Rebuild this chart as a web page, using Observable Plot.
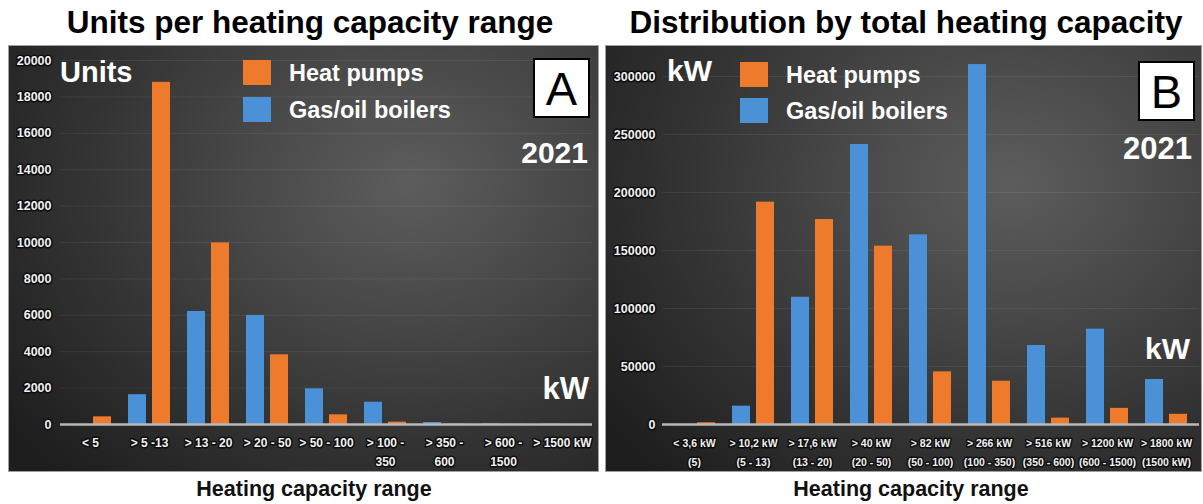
<!DOCTYPE html>
<html><head><meta charset="utf-8">
<script src="https://cdn.jsdelivr.net/npm/d3@7"></script>
<script src="https://cdn.jsdelivr.net/npm/@observablehq/plot@0.6"></script>
<style>
body{margin:0;background:#fff;font-family:"Liberation Sans",Arial,sans-serif;}
#root{position:relative;width:1203px;height:504px;overflow:hidden;background:#fff;}
.title{position:absolute;top:7px;font-weight:bold;font-size:31.5px;line-height:1;color:#000;white-space:nowrap;transform:translateX(-50%);}
.xtitle{position:absolute;top:479px;font-weight:bold;font-size:21.5px;line-height:1;color:#111;white-space:nowrap;transform:translateX(-50%);}
.panel{position:absolute;top:46px;height:425px;background:radial-gradient(ellipse 85% 95% at 68% 32%, #5d5d5d 0%, #4a4a4a 30%, #333 65%, #1e1e1e 100%);box-shadow:0 0 0 1px #a0a0a0;}
.panel svg{position:absolute;left:0;top:0;}
.panel svg g[aria-label$="tick label"] text{stroke:#0d0d0d;stroke-width:3px;paint-order:stroke;stroke-linejoin:round;}
.ann{position:absolute;line-height:1;color:#fff;font-weight:bold;white-space:nowrap;}
.sw{position:absolute;width:28px;height:25px;}
.box{position:absolute;width:53px;height:56px;background:#fff;border:2px solid #000;color:#000;font-size:47px;line-height:57px;text-align:center;font-weight:normal;}
</style></head>
<body><div id="root"></div>
<script>
// ---- data ----
const seriesNames = ["Heat pumps", "Gas/oil boilers"];

const leftCategories = ["< 5", "> 5 -13", "> 13 - 20", "> 20 - 50", "> 50 - 100", "> 100 -\n350", "> 350 -\n600", "> 600 -\n1500", "> 1500 kW"];
const leftHeatPumps = [420, 18800, 9980, 3830, 530, 130, 20, 10, 5];
const leftBoilers   = [0, 1640, 6210, 5990, 1960, 1225, 110, 30, 15];
const leftTicks = [0, 2000, 4000, 6000, 8000, 10000, 12000, 14000, 16000, 18000, 20000];

const rightCategories = ["< 3,6 kW\n(5)", "> 10,2 kW\n(5 - 13)", "> 17,6 kW\n(13 - 20)", "> 40 kW\n(20 - 50)", "> 82 kW\n(50 - 100)", "> 266 kW\n(100 - 350)", "> 516 kW\n(350 - 600)", "> 1200 kW\n(600 - 1500)", "> 1800 kW\n(1500 kW)"];
const rightHeatPumps = [1500, 191700, 176700, 153700, 45400, 37300, 5500, 13900, 8800];
const rightBoilers   = [0, 15800, 109700, 241400, 163500, 310300, 68100, 82200, 38800];
const rightTicks = [0, 50000, 100000, 150000, 200000, 250000, 300000];

// ---- styles ----
const ORANGE = "#ee7a2c", BLUE = "#4b91d8";
const FONT = "Liberation Sans, Arial, sans-serif";

function makePanel(cats, hp, gas, ticks, cfg) {
  const hpData = cats.map((c, i) => ({cat: c, value: hp[i]}));
  const gasData = cats.map((c, i) => ({cat: c, value: gas[i]}));
  const bw = 42.5, barW = 18.5;
  return Plot.plot({
    width: cfg.width, height: 425,
    marginLeft: cfg.ml, marginRight: cfg.mr, marginTop: cfg.mt, marginBottom: 47,
    style: {background: "transparent", fontFamily: FONT, overflow: "visible"},
    x: {domain: cats, paddingInner: 0.28, paddingOuter: 0.14, axis: null},
    y: {domain: [0, ticks[ticks.length - 1]], axis: null},
    marks: [
      Plot.gridY(ticks, {stroke: "#fff", strokeOpacity: 0.07, strokeWidth: 1}),
      Plot.barY(gasData, {x: "cat", y: "value", fill: BLUE, insetRight: bw - barW}),
      Plot.barY(hpData, {x: "cat", y: "value", fill: ORANGE, insetLeft: bw - barW}),
      Plot.ruleY([0], {stroke: "#b8b8b8", strokeWidth: 2.5}),
      Plot.axisY(ticks, {anchor: "left", tickSize: 0, tickPadding: cfg.yPad, label: null,
        tickFormat: d3.format("d"), fontSize: cfg.yFont, fontWeight: "bold",
        fill: "#f2f2f2"}),
      Plot.axisX({anchor: "bottom", tickSize: 0, tickPadding: 9, label: null,
        fontSize: cfg.xFont, fontWeight: "bold", lineHeight: cfg.lh,
        fill: "#f2f2f2"})
    ]
  });
}

const root = document.getElementById("root");
function add(html) { root.insertAdjacentHTML("beforeend", html); }

add('<div class="title" style="left:310px">Units per heating capacity range</div>');
add('<div class="title" style="left:906px">Distribution by total heating capacity</div>');

const pl = document.createElement("div"); pl.className = "panel";
pl.style.left = "9px"; pl.style.width = "589px"; root.appendChild(pl);
pl.appendChild(makePanel(leftCategories, leftHeatPumps, leftBoilers, leftTicks,
  {width: 589, ml: 51, mr: 6, mt: 14, yPad: 9, yFont: 12.5, xFont: 12, lh: 1.6}));

const pr = document.createElement("div"); pr.className = "panel";
pr.style.left = "606px"; pr.style.width = "595px"; root.appendChild(pr);
pr.appendChild(makePanel(rightCategories, rightHeatPumps, rightBoilers, rightTicks,
  {width: 595, ml: 56, mr: 2, mt: 30, yPad: 7, yFont: 12.5, xFont: 10.5, lh: 1.8}));

// annotations left
add('<div class="ann" style="left:60px;top:58px;font-size:29px">Units</div>');
add(`<div class="sw" style="left:243px;top:60px;background:${ORANGE}"></div>`);
add(`<div class="sw" style="left:243px;top:97px;background:${BLUE}"></div>`);
add(`<div class="ann" style="left:289px;top:62px;font-size:23.5px">${seriesNames[0]}</div>`);
add(`<div class="ann" style="left:289px;top:99px;font-size:23.5px">${seriesNames[1]}</div>`);
add('<div class="box" style="left:533px;top:58px">A</div>');
add('<div class="ann" style="right:615px;top:138px;font-size:30px">2021</div>');
add('<div class="ann" style="right:614px;top:373px;font-size:31px">kW</div>');
// annotations right
add('<div class="ann" style="left:667px;top:56px;font-size:30px">kW</div>');
add(`<div class="sw" style="left:740px;top:62px;background:${ORANGE}"></div>`);
add(`<div class="sw" style="left:740px;top:98px;background:${BLUE}"></div>`);
add(`<div class="ann" style="left:786px;top:64px;font-size:23.5px">${seriesNames[0]}</div>`);
add(`<div class="ann" style="left:786px;top:100px;font-size:23.5px">${seriesNames[1]}</div>`);
add('<div class="box" style="left:1138px;top:61px">B</div>');
add('<div class="ann" style="right:11px;top:133px;font-size:31px">2021</div>');
add('<div class="ann" style="right:13px;top:334px;font-size:30px">kW</div>');

add('<div class="xtitle" style="left:314px">Heating capacity range</div>');
add('<div class="xtitle" style="left:911px">Heating capacity range</div>');
</script>
</body></html>
